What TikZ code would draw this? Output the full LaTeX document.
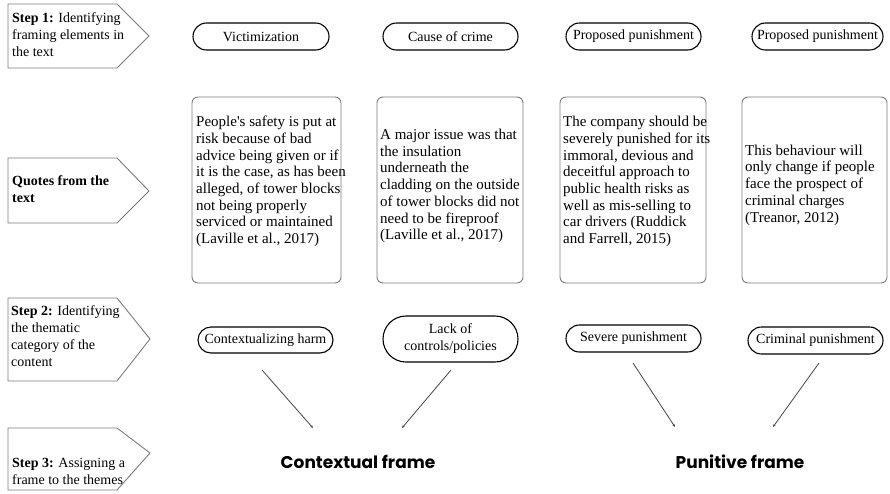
\documentclass[tikz,border=0pt]{standalone}
\usepackage{fontspec}
\setmainfont{Liberation Serif}
\newfontfamily\framefont{Poppins}
\usetikzlibrary{shapes.misc,arrows.meta}
\definecolor{boxgrey}{HTML}{7A7A7A}
\definecolor{linegrey}{HTML}{444444}
\tikzset{
  stepbox/.style={draw=boxgrey, line width=0.9pt, fill=white},
  steptext/.style={anchor=west, align=left, inner sep=0pt, font=\fontsize{14}{17}\selectfont},
  qbox/.style={draw=boxgrey, line width=0.9pt, rounded corners=6pt, inner sep=0pt},
  qtext/.style={anchor=west, align=left, inner sep=0pt, font=\fontsize{15}{16.7}\selectfont},
  oval/.style={draw=black, line width=1.1pt, rounded rectangle, inner sep=0pt, align=center, font=\fontsize{14}{17}\selectfont},
  conn/.style={draw=linegrey, line width=0.8pt, -{Stealth[length=3pt,width=2.5pt]}},
  framelabel/.style={font=\framefont\bfseries\fontsize{17}{20}\selectfont, inner sep=0pt}
}
\begin{document}
\begin{tikzpicture}[x=1pt,y=-1pt]
\useasboundingbox (0,0) rectangle (890,493);
% step pentagons
\draw[stepbox] (8,4) -- (117,4) -- (149,36) -- (117,68) -- (8,68) -- cycle;
\node[steptext] (s1) at (12,35) {\textbf{Step 1:} Identifying\\framing elements in\\the text};
\draw[stepbox] (8,158) -- (117,158) -- (149,191) -- (117,223) -- (8,223) -- cycle;
\node[steptext] (s0) at (12,189) {\textbf{Quotes from the}\\\textbf{text}};
\draw[stepbox] (8,298) -- (117,298) -- (150,339) -- (117,381) -- (8,381) -- cycle;
\node[steptext] (s2) at (11,336.5) {\textbf{Step 2:} Identifying\\the thematic\\category of the\\content};
\draw[stepbox] (8,428) -- (117,428) -- (150,453) -- (117,490) -- (8,490) -- cycle;
\node[steptext] (s3) at (12,471) {\textbf{Step 3:} Assigning a\\frame to the themes};
% top ovals
\node[oval, minimum width=136pt, minimum height=27pt] (t1) at (261,36.5) {Victimization};
\node[oval, minimum width=135pt, minimum height=27pt] (t2) at (450.5,36.5) {Cause of crime};
\node[oval, minimum width=135pt, minimum height=27pt] (t3) at (633.5,36.5) {Proposed punishment};
\node[oval, minimum width=131pt, minimum height=27pt] (t4) at (817.5,36.5) {Proposed punishment};
% quote boxes
\node[qbox, minimum width=149pt, minimum height=186pt] (q1) at (266.5,190) {};
\node[qtext] (q1t) at (196,181.5) {People\textquotesingle s safety is put at\\risk because of bad\\advice being given or if\\it is the case, as has been\\alleged, of tower blocks\\not being properly\\serviced or maintained\\(Laville et al., 2017)};
\node[qbox, minimum width=146pt, minimum height=186pt] (q2) at (450,190) {};
\node[qtext] (q2t) at (380,186) {A major issue was that\\the insulation\\underneath the\\cladding on the outside\\of tower blocks did not\\need to be fireproof\\(Laville et al., 2017)};
\node[qbox, minimum width=146pt, minimum height=186pt] (q3) at (633,190) {};
\node[qtext] (q3t) at (563,181.5) {The company should be\\severely punished for its\\immoral, devious and\\deceitful approach to\\public health risks as\\well as mis-selling to\\car drivers (Ruddick\\and Farrell, 2015)};
\node[qbox, minimum width=145pt, minimum height=186pt] (q4) at (814.5,190) {};
\node[qtext] (q4t) at (745,185) {This behaviour will\\only change if people\\face the prospect of\\criminal charges\\(Treanor, 2012)};
% step 2 ovals
\node[oval, minimum width=135pt, minimum height=26pt] (c1) at (265.5,340) {Contextualizing harm};
\node[oval, minimum width=135pt, minimum height=46pt] (c2) at (450.5,339) {Lack of\\controls/policies};
\node[oval, minimum width=135pt, minimum height=27pt] (c3) at (633.5,338.5) {Severe punishment};
\node[oval, minimum width=135pt, minimum height=27pt] (c4) at (815.5,340.5) {Criminal punishment};
% frames
\node[framelabel] (f1) at (358,462) {Contextual frame};
\node[framelabel] (f2) at (740,462) {Punitive frame};
% connectors
\coordinate (a1s) at (262,370); \coordinate (a1e) at (313,428);
\coordinate (a2s) at (451,370); \coordinate (a2e) at (402,428);
\coordinate (a3s) at (633,363); \coordinate (a3e) at (675,427);
\coordinate (a4s) at (819,363); \coordinate (a4e) at (773,427);
\draw[conn] (a1s) -- (a1e);
\draw[conn] (a2s) -- (a2e);
\draw[conn] (a3s) -- (a3e);
\draw[conn] (a4s) -- (a4e);
\end{tikzpicture}
\end{document}
